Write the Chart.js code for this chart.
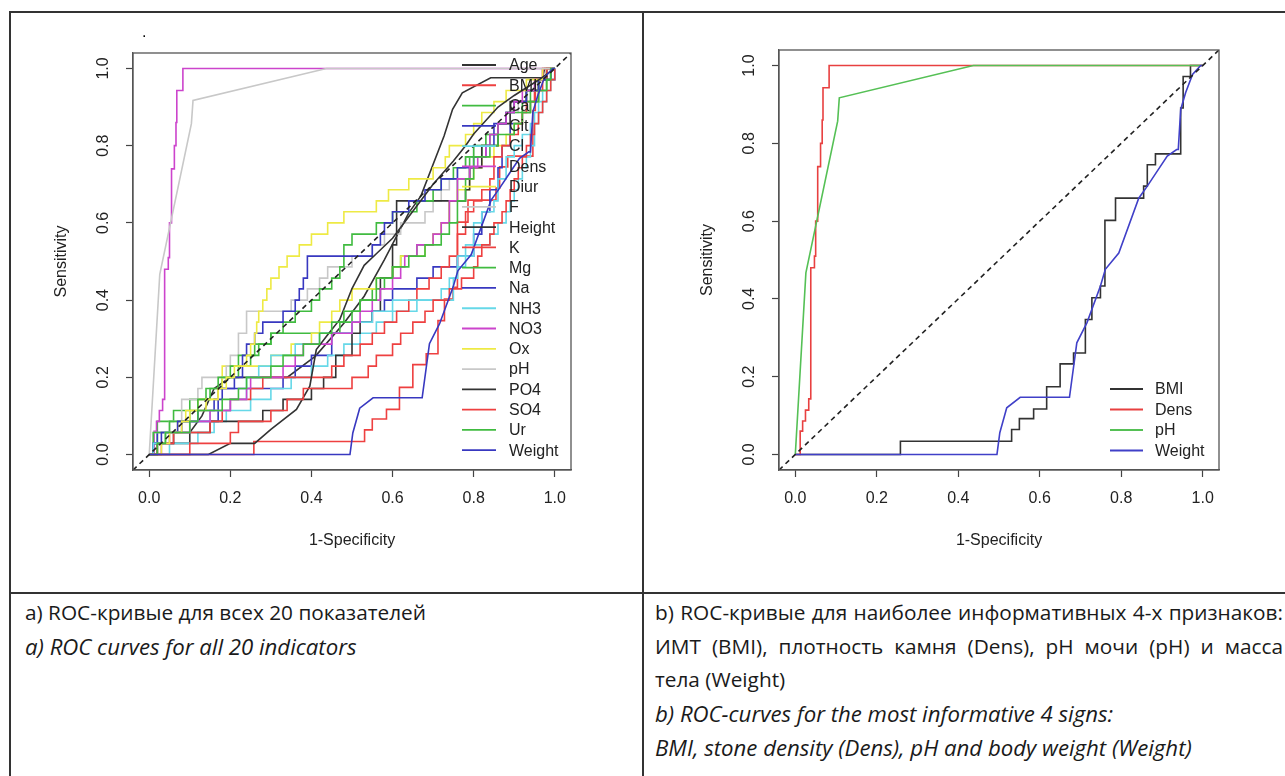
<!DOCTYPE html>
<html>
<head>
<meta charset="utf-8">
<script src="https://cdn.jsdelivr.net/npm/chart.js@4.4.1/dist/chart.umd.min.js"></script>
<style>
  body { margin: 0; background: #fff; width: 1285px; height: 776px; overflow: hidden; position: relative; font-family: "Open Sans", sans-serif; }
  canvas { position: absolute; top: 0; }
  #chartA { left: 0; }
  #chartB { left: 645px; }
  .rule { position: absolute; background: #333; }
  .cap { position: absolute; font-size: 20.8px; line-height: 33.5px; color: #1a1a1a; }
  .cap i { font-size: 22.2px; }
  .just { text-align: justify; text-align-last: justify; white-space: nowrap; }
  .dot { position: absolute; left: 142px; top: 23px; font: 16px "Liberation Sans", Arial, sans-serif; }
</style>
</head>
<body>
<div class="rule" style="left:9px;top:11px;width:1276px;height:1.5px"></div>
<div class="rule" style="left:9px;top:11px;width:1.5px;height:765px"></div>
<div class="rule" style="left:642px;top:11px;width:1.5px;height:765px"></div>
<div class="rule" style="left:9px;top:592px;width:1276px;height:1.5px"></div>

<canvas id="chartA" width="643" height="590"></canvas>
<canvas id="chartB" width="640" height="590"></canvas>
<span class="dot">.</span>

<div class="cap" style="left:25px;top:596px;width:600px">
  <div>a) ROC-кривые для всех 20 показателей</div>
  <div><i>a) ROC curves for all 20 indicators</i></div>
</div>
<div class="cap" style="left:655px;top:596px;width:628px">
  <div class="just">b) ROC-кривые для наиболее информативных 4-х признаков:</div>
  <div class="just">ИМТ (BMI), плотность камня (Dens), pH мочи (pH) и масса</div>
  <div>тела (Weight)</div>
  <div><i>b) ROC-curves for the most informative 4 signs:</i></div>
  <div><i>BMI, stone density (Dens), pH and body weight (Weight)</i></div>
</div>

<script>
// axis ticks
const xTicks = [0, 0.2, 0.4, 0.6, 0.8, 1.0];
const yTicks = [0, 0.2, 0.4, 0.6, 0.8, 1.0];

const namesA = ['Age', 'BMI', 'Ca', 'Cit', 'Cl', 'Dens', 'Diur', 'F', 'Height', 'K',
                'Mg', 'Na', 'NH3', 'NO3', 'Ox', 'pH', 'PO4', 'SO4', 'Ur', 'Weight'];
const namesB = ['BMI', 'Dens', 'pH', 'Weight'];

// curves drawn as straight segments, the rest are step curves
const smoothCurves = ['Age', 'PO4', 'pH', 'Weight'];

// [1-specificity, sensitivity]
const rocAge = [[0,0],[0.01,0],[0.01,0.029],[0.1,0.029],[0.1,0.057],[0.13,0.1],[0.16,0.171],[0.2,0.2],[0.34,0.2],[0.41,0.255],[0.48,0.34],[0.53,0.41],[0.58,0.505],[0.64,0.626],[0.67,0.67],[0.727,0.825],[0.748,0.894],[0.772,0.937],[0.842,0.976],[0.97,0.976],[0.975,1],[1,1]];
const rocBMI = [[0,0],[0.258,0.034],[0.531,0.064],[0.55,0.092],[0.585,0.117],[0.617,0.174],[0.65,0.233],[0.683,0.261],[0.712,0.347],[0.728,0.403],[0.749,0.433],[0.76,0.602],[0.786,0.659],[0.855,0.69],[0.864,0.745],[0.884,0.773],[0.946,0.891],[0.952,0.972],[0.97,1],[1,1]];
const rocCa = [[0,0],[0.01,0.029],[0.02,0.086],[0.06,0.114],[0.1,0.143],[0.14,0.171],[0.18,0.2],[0.22,0.229],[0.25,0.257],[0.27,0.286],[0.3,0.314],[0.47,0.343],[0.5,0.371],[0.52,0.4],[0.55,0.429],[0.58,0.457],[0.6,0.486],[0.62,0.514],[0.66,0.543],[0.7,0.571],[0.72,0.6],[0.74,0.657],[0.76,0.714],[0.79,0.771],[0.82,0.8],[0.84,0.829],[0.86,0.857],[0.88,0.886],[0.9,0.914],[0.93,0.943],[0.96,0.971],[0.98,1],[1,1]];
const rocCit = [[0,0],[0.01,0.029],[0.02,0.057],[0.08,0.086],[0.17,0.171],[0.33,0.2],[0.36,0.229],[0.4,0.257],[0.45,0.314],[0.5,0.343],[0.55,0.371],[0.58,0.4],[0.6,0.429],[0.66,0.457],[0.7,0.486],[0.76,0.514],[0.8,0.571],[0.82,0.629],[0.84,0.686],[0.86,0.743],[0.87,0.8],[0.89,0.857],[0.92,0.886],[0.94,0.914],[0.96,0.943],[0.98,0.971],[1,1]];
const rocCl = [[0,0],[0.05,0.029],[0.12,0.057],[0.16,0.086],[0.19,0.114],[0.25,0.143],[0.3,0.171],[0.35,0.2],[0.4,0.229],[0.44,0.257],[0.48,0.286],[0.52,0.314],[0.56,0.343],[0.6,0.371],[0.66,0.4],[0.72,0.429],[0.74,0.457],[0.76,0.486],[0.78,0.543],[0.8,0.6],[0.82,0.629],[0.85,0.657],[0.86,0.714],[0.88,0.771],[0.9,0.8],[0.92,0.829],[0.94,0.857],[0.95,0.886],[0.96,0.914],[0.97,0.943],[0.98,0.971],[0.99,1],[1,1]];
const rocDens = [[0,0],[0.012,0.06],[0.018,0.086],[0.025,0.114],[0.033,0.143],[0.038,0.48],[0.047,0.51],[0.05,0.6],[0.055,0.74],[0.062,0.8],[0.066,0.86],[0.068,0.943],[0.083,1],[1,1]];
const rocDiur = [[0,0],[0.02,0.029],[0.04,0.057],[0.07,0.086],[0.09,0.114],[0.12,0.143],[0.17,0.171],[0.18,0.229],[0.3,0.257],[0.35,0.286],[0.4,0.314],[0.42,0.343],[0.45,0.371],[0.47,0.4],[0.5,0.429],[0.56,0.457],[0.6,0.486],[0.62,0.514],[0.68,0.543],[0.7,0.571],[0.72,0.6],[0.74,0.657],[0.76,0.686],[0.79,0.714],[0.8,0.743],[0.82,0.771],[0.85,0.8],[0.88,0.829],[0.9,0.857],[0.92,0.886],[0.94,0.914],[0.96,0.943],[0.98,0.971],[0.99,1],[1,1]];
const rocF = [[0,0],[0.01,0.057],[0.05,0.086],[0.08,0.143],[0.12,0.171],[0.13,0.2],[0.19,0.229],[0.2,0.257],[0.22,0.314],[0.24,0.371],[0.35,0.4],[0.39,0.429],[0.42,0.457],[0.44,0.486],[0.5,0.514],[0.55,0.543],[0.58,0.571],[0.62,0.6],[0.68,0.629],[0.7,0.657],[0.72,0.686],[0.74,0.714],[0.76,0.743],[0.78,0.771],[0.8,0.8],[0.83,0.829],[0.86,0.857],[0.89,0.886],[0.91,0.914],[0.93,0.943],[0.96,0.971],[0.98,1],[1,1]];
const rocHeight = [[0,0],[0.02,0.029],[0.06,0.057],[0.15,0.086],[0.28,0.114],[0.33,0.143],[0.4,0.171],[0.43,0.2],[0.46,0.257],[0.5,0.314],[0.52,0.343],[0.55,0.371],[0.57,0.457],[0.6,0.543],[0.61,0.657],[0.78,0.686],[0.79,0.743],[0.82,0.8],[0.86,0.857],[0.89,0.914],[0.93,0.943],[0.96,0.971],[0.98,1],[1,1]];
const rocK = [[0,0],[0.02,0.029],[0.06,0.057],[0.15,0.086],[0.18,0.114],[0.2,0.143],[0.25,0.171],[0.28,0.2],[0.45,0.229],[0.48,0.257],[0.52,0.286],[0.55,0.314],[0.58,0.343],[0.61,0.371],[0.64,0.4],[0.66,0.429],[0.69,0.457],[0.72,0.486],[0.74,0.514],[0.76,0.571],[0.78,0.629],[0.8,0.657],[0.82,0.686],[0.84,0.714],[0.85,0.771],[0.87,0.8],[0.89,0.829],[0.91,0.857],[0.92,0.886],[0.93,0.914],[0.95,0.943],[0.97,0.971],[0.98,1],[1,1]];
const rocMg = [[0,0],[0.01,0.057],[0.05,0.086],[0.1,0.114],[0.12,0.143],[0.15,0.171],[0.17,0.2],[0.2,0.229],[0.22,0.257],[0.26,0.286],[0.3,0.314],[0.33,0.343],[0.36,0.371],[0.4,0.4],[0.42,0.429],[0.45,0.457],[0.47,0.486],[0.48,0.543],[0.5,0.571],[0.56,0.6],[0.6,0.629],[0.66,0.657],[0.7,0.686],[0.72,0.714],[0.75,0.743],[0.78,0.771],[0.8,0.8],[0.83,0.829],[0.86,0.857],[0.88,0.886],[0.92,0.914],[0.94,0.943],[0.96,0.971],[0.99,1],[1,1]];
const rocNa = [[0,0],[0.01,0.029],[0.03,0.057],[0.07,0.086],[0.12,0.114],[0.16,0.143],[0.18,0.171],[0.21,0.2],[0.23,0.257],[0.24,0.286],[0.26,0.314],[0.28,0.343],[0.33,0.371],[0.36,0.4],[0.37,0.429],[0.38,0.457],[0.39,0.514],[0.55,0.543],[0.57,0.571],[0.58,0.6],[0.6,0.629],[0.64,0.657],[0.68,0.686],[0.72,0.714],[0.76,0.743],[0.8,0.771],[0.83,0.8],[0.85,0.857],[0.88,0.886],[0.9,0.914],[0.93,0.943],[0.96,0.971],[0.99,1],[1,1]];
const rocNH3 = [[0,0],[0.01,0.029],[0.04,0.057],[0.1,0.086],[0.15,0.114],[0.2,0.143],[0.24,0.2],[0.27,0.229],[0.3,0.257],[0.36,0.286],[0.42,0.314],[0.5,0.343],[0.55,0.371],[0.6,0.4],[0.75,0.457],[0.76,0.514],[0.8,0.543],[0.84,0.571],[0.86,0.6],[0.88,0.629],[0.89,0.657],[0.9,0.686],[0.91,0.714],[0.92,0.743],[0.93,0.771],[0.94,0.8],[0.95,0.857],[0.96,0.886],[0.97,0.914],[0.98,0.943],[0.99,0.971],[1,1]];
const rocNO3 = [[0,0],[0.03,0.029],[0.05,0.057],[0.1,0.086],[0.15,0.114],[0.2,0.143],[0.24,0.171],[0.25,0.2],[0.33,0.229],[0.36,0.257],[0.38,0.286],[0.45,0.314],[0.5,0.343],[0.52,0.371],[0.55,0.4],[0.57,0.429],[0.6,0.457],[0.62,0.486],[0.63,0.514],[0.66,0.543],[0.7,0.571],[0.72,0.6],[0.74,0.657],[0.76,0.714],[0.79,0.743],[0.81,0.771],[0.83,0.8],[0.84,0.829],[0.86,0.857],[0.88,0.886],[0.9,0.914],[0.92,0.943],[0.95,0.971],[0.97,1],[1,1]];
const rocOx = [[0,0],[0.03,0.029],[0.05,0.057],[0.08,0.086],[0.1,0.114],[0.14,0.143],[0.17,0.171],[0.19,0.2],[0.21,0.229],[0.24,0.257],[0.25,0.286],[0.26,0.314],[0.265,0.343],[0.27,0.371],[0.28,0.4],[0.29,0.429],[0.3,0.457],[0.32,0.486],[0.34,0.514],[0.37,0.543],[0.4,0.571],[0.44,0.6],[0.48,0.629],[0.56,0.657],[0.59,0.686],[0.64,0.714],[0.7,0.743],[0.73,0.771],[0.74,0.8],[0.78,0.829],[0.8,0.857],[0.82,0.886],[0.85,0.914],[0.88,0.943],[0.93,0.971],[0.97,1],[1,1]];
const rocPH = [[0,0],[0.026,0.467],[0.104,0.857],[0.108,0.917],[0.437,1],[1,1]];
const rocPO4 = [[0,0],[0.146,0],[0.2,0.029],[0.26,0.029],[0.3,0.065],[0.363,0.117],[0.396,0.177],[0.412,0.272],[0.44,0.31],[0.47,0.35],[0.5,0.43],[0.53,0.49],[0.56,0.52],[0.6,0.56],[0.65,0.63],[0.7,0.7],[0.75,0.76],[0.78,0.8],[0.8,0.83],[0.86,0.9],[0.9,0.93],[0.96,0.97],[1,1]];
const rocSO4 = [[0,0],[0.1,0.029],[0.2,0.057],[0.22,0.086],[0.3,0.114],[0.34,0.143],[0.38,0.171],[0.5,0.2],[0.54,0.229],[0.56,0.257],[0.6,0.286],[0.62,0.314],[0.65,0.343],[0.68,0.371],[0.7,0.4],[0.74,0.429],[0.77,0.457],[0.8,0.486],[0.81,0.514],[0.82,0.543],[0.84,0.571],[0.85,0.6],[0.87,0.629],[0.88,0.657],[0.89,0.686],[0.9,0.714],[0.91,0.743],[0.92,0.771],[0.93,0.8],[0.94,0.829],[0.95,0.857],[0.96,0.886],[0.97,0.914],[0.98,0.943],[0.99,0.971],[1,1]];
const rocUr = [[0,0],[0.02,0.029],[0.04,0.057],[0.1,0.086],[0.12,0.114],[0.18,0.143],[0.22,0.171],[0.24,0.2],[0.3,0.229],[0.33,0.257],[0.38,0.286],[0.42,0.314],[0.45,0.343],[0.48,0.371],[0.52,0.4],[0.56,0.457],[0.6,0.486],[0.64,0.514],[0.68,0.543],[0.72,0.571],[0.74,0.6],[0.76,0.657],[0.78,0.714],[0.8,0.771],[0.84,0.8],[0.86,0.829],[0.9,0.857],[0.92,0.886],[0.94,0.914],[0.96,0.943],[0.98,0.971],[0.99,1],[1,1]];
const rocWeight = [[0,0],[0.495,0],[0.502,0.056],[0.519,0.12],[0.552,0.147],[0.673,0.147],[0.691,0.287],[0.716,0.339],[0.749,0.433],[0.761,0.476],[0.794,0.518],[0.843,0.659],[0.864,0.69],[0.888,0.728],[0.913,0.767],[0.936,0.784],[0.94,0.784],[0.946,0.887],[0.958,0.93],[0.975,0.977],[0.995,1],[1,1]];
const diagonal = [[-0.04,-0.04],[1.04,1.04]];

const curves = {
  Age: rocAge, BMI: rocBMI, Ca: rocCa, Cit: rocCit, Cl: rocCl, Dens: rocDens, Diur: rocDiur,
  F: rocF, Height: rocHeight, K: rocK, Mg: rocMg, Na: rocNa, NH3: rocNH3, NO3: rocNO3,
  Ox: rocOx, pH: rocPH, PO4: rocPO4, SO4: rocSO4, Ur: rocUr, Weight: rocWeight
};

// R default palette, a bit softened like the scan
const palette = ['#333333', '#ee4040', '#40bb40', '#3838c0', '#66d8e8', '#cc44cc', '#eeea44', '#c8c8c8'];
const colorsA = {};
namesA.forEach((n, i) => { colorsA[n] = palette[i % 8]; });
const colorsB = { BMI: '#333333', Dens: '#e84040', pH: '#55c055', Weight: '#4040c8' };

const FONT = '"Liberation Sans", Arial, sans-serif';
const TEXT = '#222';

function toPoints(arr) {
  return arr.map(p => ({ x: p[0], y: p[1] }));
}

function makeDatasets(names, colors) {
  const ds = names.map((n, i) => ({
    label: n,
    data: toPoints(curves[n]),
    borderColor: colors[n],
    borderWidth: 1.6,
    pointRadius: 0,
    fill: false,
    stepped: smoothCurves.includes(n) ? false : 'before',
    order: names.length - i
  }));
  ds.push({
    label: 'diag', data: toPoints(diagonal), borderColor: '#222', borderWidth: 1.6,
    borderDash: [5, 4], pointRadius: 0, fill: false, order: 0
  });
  return ds;
}

function makeScales(yTitlePad) {
  return {
    x: {
      type: 'linear', min: -0.04, max: 1.04,
      afterBuildTicks: s => { s.ticks = xTicks.map(v => ({ value: v })); },
      afterFit: s => { s.height = 100; },
      ticks: { font: { family: FONT, size: 16 }, color: TEXT, padding: 12, maxRotation: 0, autoSkip: false,
               callback: v => v.toFixed(1) },
      grid: { drawOnChartArea: false, drawTicks: true, tickLength: 7, color: '#444', tickWidth: 1.2 },
      border: { display: true, color: '#555', width: 1.2 },
      title: { display: true, text: '1-Specificity', color: TEXT, font: { family: FONT, size: 16 },
               padding: { top: 0, bottom: 19.4 } }
    },
    y: {
      type: 'linear', min: -0.04, max: 1.04,
      afterBuildTicks: s => { s.ticks = yTicks.map(v => ({ value: v })); },
      afterFit: s => { s.width = s.chart.options.layout.yWidth; },
      ticks: { display: false },
      grid: { drawOnChartArea: false, drawTicks: true, tickLength: 7, color: '#444', tickWidth: 1.2 },
      border: { display: true, color: '#555', width: 1.2 },
      title: { display: true, text: 'Sensitivity', color: TEXT, font: { family: FONT, size: 16 },
               padding: { top: yTitlePad, bottom: 0 } }
    }
  };
}

// box, rotated y labels (R style) and the legend
const rocFrame = {
  id: 'rocFrame',
  afterDraw(chart, args, opts) {
    const ctx = chart.ctx;
    const a = chart.chartArea;
    const ys = chart.scales.y;
    ctx.save();
    ctx.strokeStyle = '#555';
    ctx.lineWidth = 1.3;
    ctx.strokeRect(a.left, a.top, a.right - a.left, a.bottom - a.top);

    ctx.fillStyle = TEXT;
    ctx.font = '16px ' + FONT;
    ctx.textAlign = 'center';
    ctx.textBaseline = 'middle';
    yTicks.forEach(v => {
      ctx.save();
      ctx.translate(a.left - 29, ys.getPixelForValue(v));
      ctx.rotate(-Math.PI / 2);
      ctx.fillText(v.toFixed(1), 0, 0);
      ctx.restore();
    });

    ctx.textAlign = 'left';
    opts.names.forEach((n, i) => {
      const y = opts.y0 + i * opts.dy;
      ctx.strokeStyle = opts.colors[n];
      ctx.lineWidth = 1.8;
      ctx.beginPath();
      ctx.moveTo(opts.x0, y);
      ctx.lineTo(opts.x1, y);
      ctx.stroke();
      ctx.fillStyle = TEXT;
      ctx.fillText(n, opts.tx, y + 1);
    });
    ctx.restore();
  }
};

function makeChart(id, names, colors, layout, legendPos, yTitlePad) {
  return new Chart(document.getElementById(id), {
    type: 'line',
    data: { datasets: makeDatasets(names, colors) },
    options: {
      responsive: false,
      animation: false,
      layout: layout,
      scales: makeScales(yTitlePad),
      plugins: {
        legend: { display: false },
        tooltip: { enabled: false },
        rocFrame: Object.assign({ names: names, colors: colors }, legendPos)
      }
    },
    plugins: [rocFrame]
  });
}

makeChart('chartA', namesA, colorsA,
  { padding: { left: 0, right: 72, top: 53, bottom: 20 }, yWidth: 133 },
  { x0: 462, x1: 496, tx: 509, y0: 65, dy: 20.27 }, 52.4);

makeChart('chartB', namesB, colorsB,
  { padding: { left: 0, right: 66, top: 50, bottom: 20 }, yWidth: 134 },
  { x0: 465, x1: 498, tx: 510, y0: 389, dy: 20.5 }, 53.4);
</script>
</body>
</html>
